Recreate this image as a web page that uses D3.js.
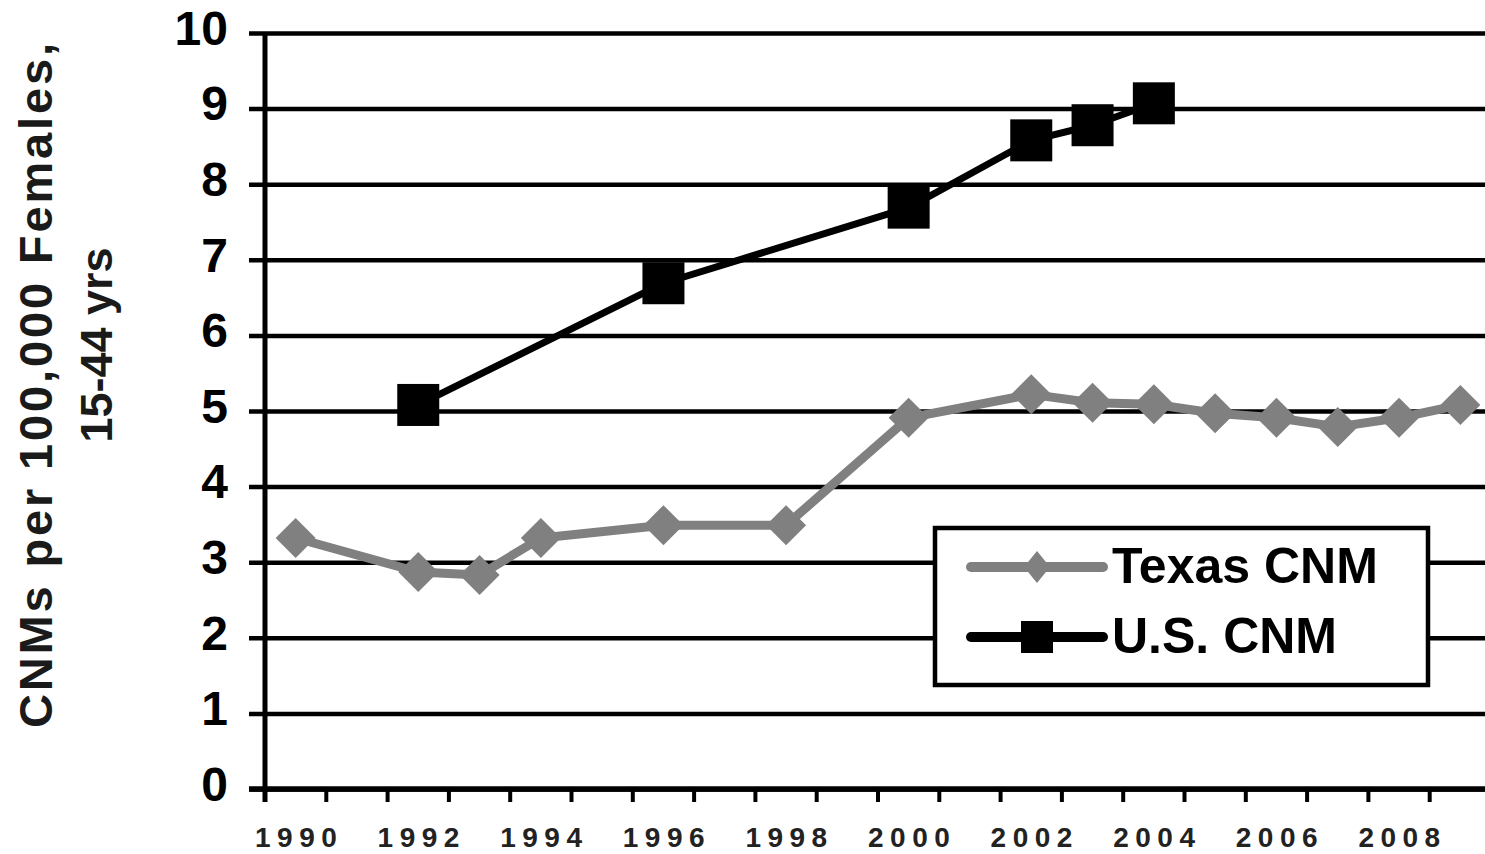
<!DOCTYPE html>
<html><head><meta charset="utf-8">
<script src="https://cdn.jsdelivr.net/npm/d3@7"></script>
<style>body{margin:0;background:#fff;} svg{display:block;font-family:"Liberation Sans",Arial,sans-serif;}</style>
</head><body><svg id="chart" width="1485" height="854"></svg>
<script>
const years = ["1990","1991","1992","1993","1994","1995","1996","1997","1998","1999","2000","2001","2002","2003","2004","2005","2006","2007","2008","2009"];
const xTickLabels = ["1990","1992","1994","1996","1998","2000","2002","2004","2006","2008"];
const yTicks = [0,1,2,3,4,5,6,7,8,9,10];
const texasCNM = [3.32,null,2.87,2.83,3.32,null,3.49,null,3.49,null,4.91,null,5.22,5.11,5.09,4.97,4.91,4.79,4.91,5.08];
const usCNM = [null,null,5.08,null,null,null,6.69,null,null,null,7.69,null,8.58,8.78,9.07,null,null,null,null,null];
const seriesNames = ["Texas CNM","U.S. CNM"];
const yTitleLines = ["CNMs per 100,000 Females,","15-44 yrs"];

const svg = d3.select("#chart");
const x = d3.scaleBand().domain(years).range([265, 1491]).padding(0);
const y = d3.scaleLinear().domain([0,10]).range([789, 33]);

// gridlines + y axis via d3 axis
const yAxis = d3.axisLeft(y).tickValues(yTicks).tickSize(-(1485-265)).tickFormat(d3.format("d"));
const gy = svg.append("g").attr("transform","translate(265,0)").call(yAxis);
gy.select(".domain").remove();
gy.selectAll(".tick line").attr("x1",-16).attr("stroke","#000").attr("stroke-width",4.5);
gy.selectAll(".tick text").attr("x",-37).attr("dy","0.32em").attr("transform","translate(0,-4)")
  .style("font-size","48px").style("font-weight","bold").attr("fill","#000")
  .style("font-family","'Liberation Sans',Arial,sans-serif");

// y axis line
svg.append("line").attr("x1",265).attr("x2",265).attr("y1",y(10)).attr("y2",y(0)+13)
  .attr("stroke","#000").attr("stroke-width",5);

// x axis ticks at band boundaries
const boundaries = years.map(d=>x(d));
svg.append("g").selectAll("line").data(boundaries).join("line")
  .attr("x1",d=>d).attr("x2",d=>d).attr("y1",y(0)).attr("y2",y(0)+13)
  .attr("stroke","#000").attr("stroke-width",4);
svg.append("line").attr("x1",249).attr("x2",1485).attr("y1",y(0)).attr("y2",y(0))
  .attr("stroke","#000").attr("stroke-width",5.5);

// x labels
svg.append("g").selectAll("text").data(xTickLabels).join("text")
  .attr("x",d=>x(d)+x.bandwidth()/2+3.5).attr("y",847)
  .attr("text-anchor","middle").style("font-size","28px").style("font-weight","bold")
  .style("letter-spacing","6.5px").attr("fill","#222").text(d=>d);

// y title
svg.append("text").attr("transform","translate(52,385.5) rotate(-90)")
  .attr("text-anchor","middle").style("font-size","47px").style("font-weight","bold")
  .attr("fill","#1a1a1a").attr("textLength",685).attr("lengthAdjust","spacing").text(yTitleLines[0]);
svg.append("text").attr("transform","translate(112,345) rotate(-90)")
  .attr("text-anchor","middle").style("font-size","45px").style("font-weight","bold")
  .attr("fill","#1a1a1a").text(yTitleLines[1]);

// series
const line = d3.line().x(d=>x(d.year)+x.bandwidth()/2).y(d=>y(d.v));
const texasData = years.map((yr,i)=>({year:yr,v:texasCNM[i]})).filter(d=>d.v!=null);
const usData = years.map((yr,i)=>({year:yr,v:usCNM[i]})).filter(d=>d.v!=null);

svg.append("path").datum(texasData).attr("d",line).attr("fill","none")
  .attr("stroke","#808080").attr("stroke-width",9).attr("stroke-linejoin","round");
svg.append("g").selectAll("path").data(texasData).join("path")
  .attr("transform",d=>`translate(${x(d.year)+x.bandwidth()/2},${y(d.v)})`)
  .attr("d","M0,-20L20,0L0,20L-20,0Z").attr("fill","#808080");

svg.append("path").datum(usData).attr("d",line).attr("fill","none")
  .attr("stroke","#000").attr("stroke-width",7).attr("stroke-linejoin","round");
svg.append("g").selectAll("rect").data(usData).join("rect")
  .attr("x",d=>x(d.year)+x.bandwidth()/2-21).attr("y",d=>y(d.v)-21)
  .attr("width",42).attr("height",42).attr("fill","#000");

// legend
const lg = svg.append("g");
lg.append("rect").attr("x",935).attr("y",528).attr("width",493).attr("height",157)
  .attr("fill","#fff").attr("stroke","#000").attr("stroke-width",4.5);
const legendRows = [{name:seriesNames[0],color:"#808080",shape:"diamond",y:567},
                    {name:seriesNames[1],color:"#000",shape:"square",y:637}];
legendRows.forEach(r=>{
  lg.append("line").attr("x1",971).attr("x2",1103).attr("y1",r.y).attr("y2",r.y)
    .attr("stroke",r.color).attr("stroke-width",10).attr("stroke-linecap","round");
  if(r.shape==="diamond"){
    lg.append("path").attr("transform",`translate(1037,${r.y})`).attr("d","M0,-16L13,0L0,16L-13,0Z").attr("fill",r.color);
  } else {
    lg.append("rect").attr("x",1037-16).attr("y",r.y-16).attr("width",32).attr("height",32).attr("fill",r.color);
  }
  lg.append("text").attr("x",1112).attr("y",r.y+16).style("font-size","50px").style("font-weight","bold")
    .attr("fill","#000").text(r.name);
});
</script></body></html>
